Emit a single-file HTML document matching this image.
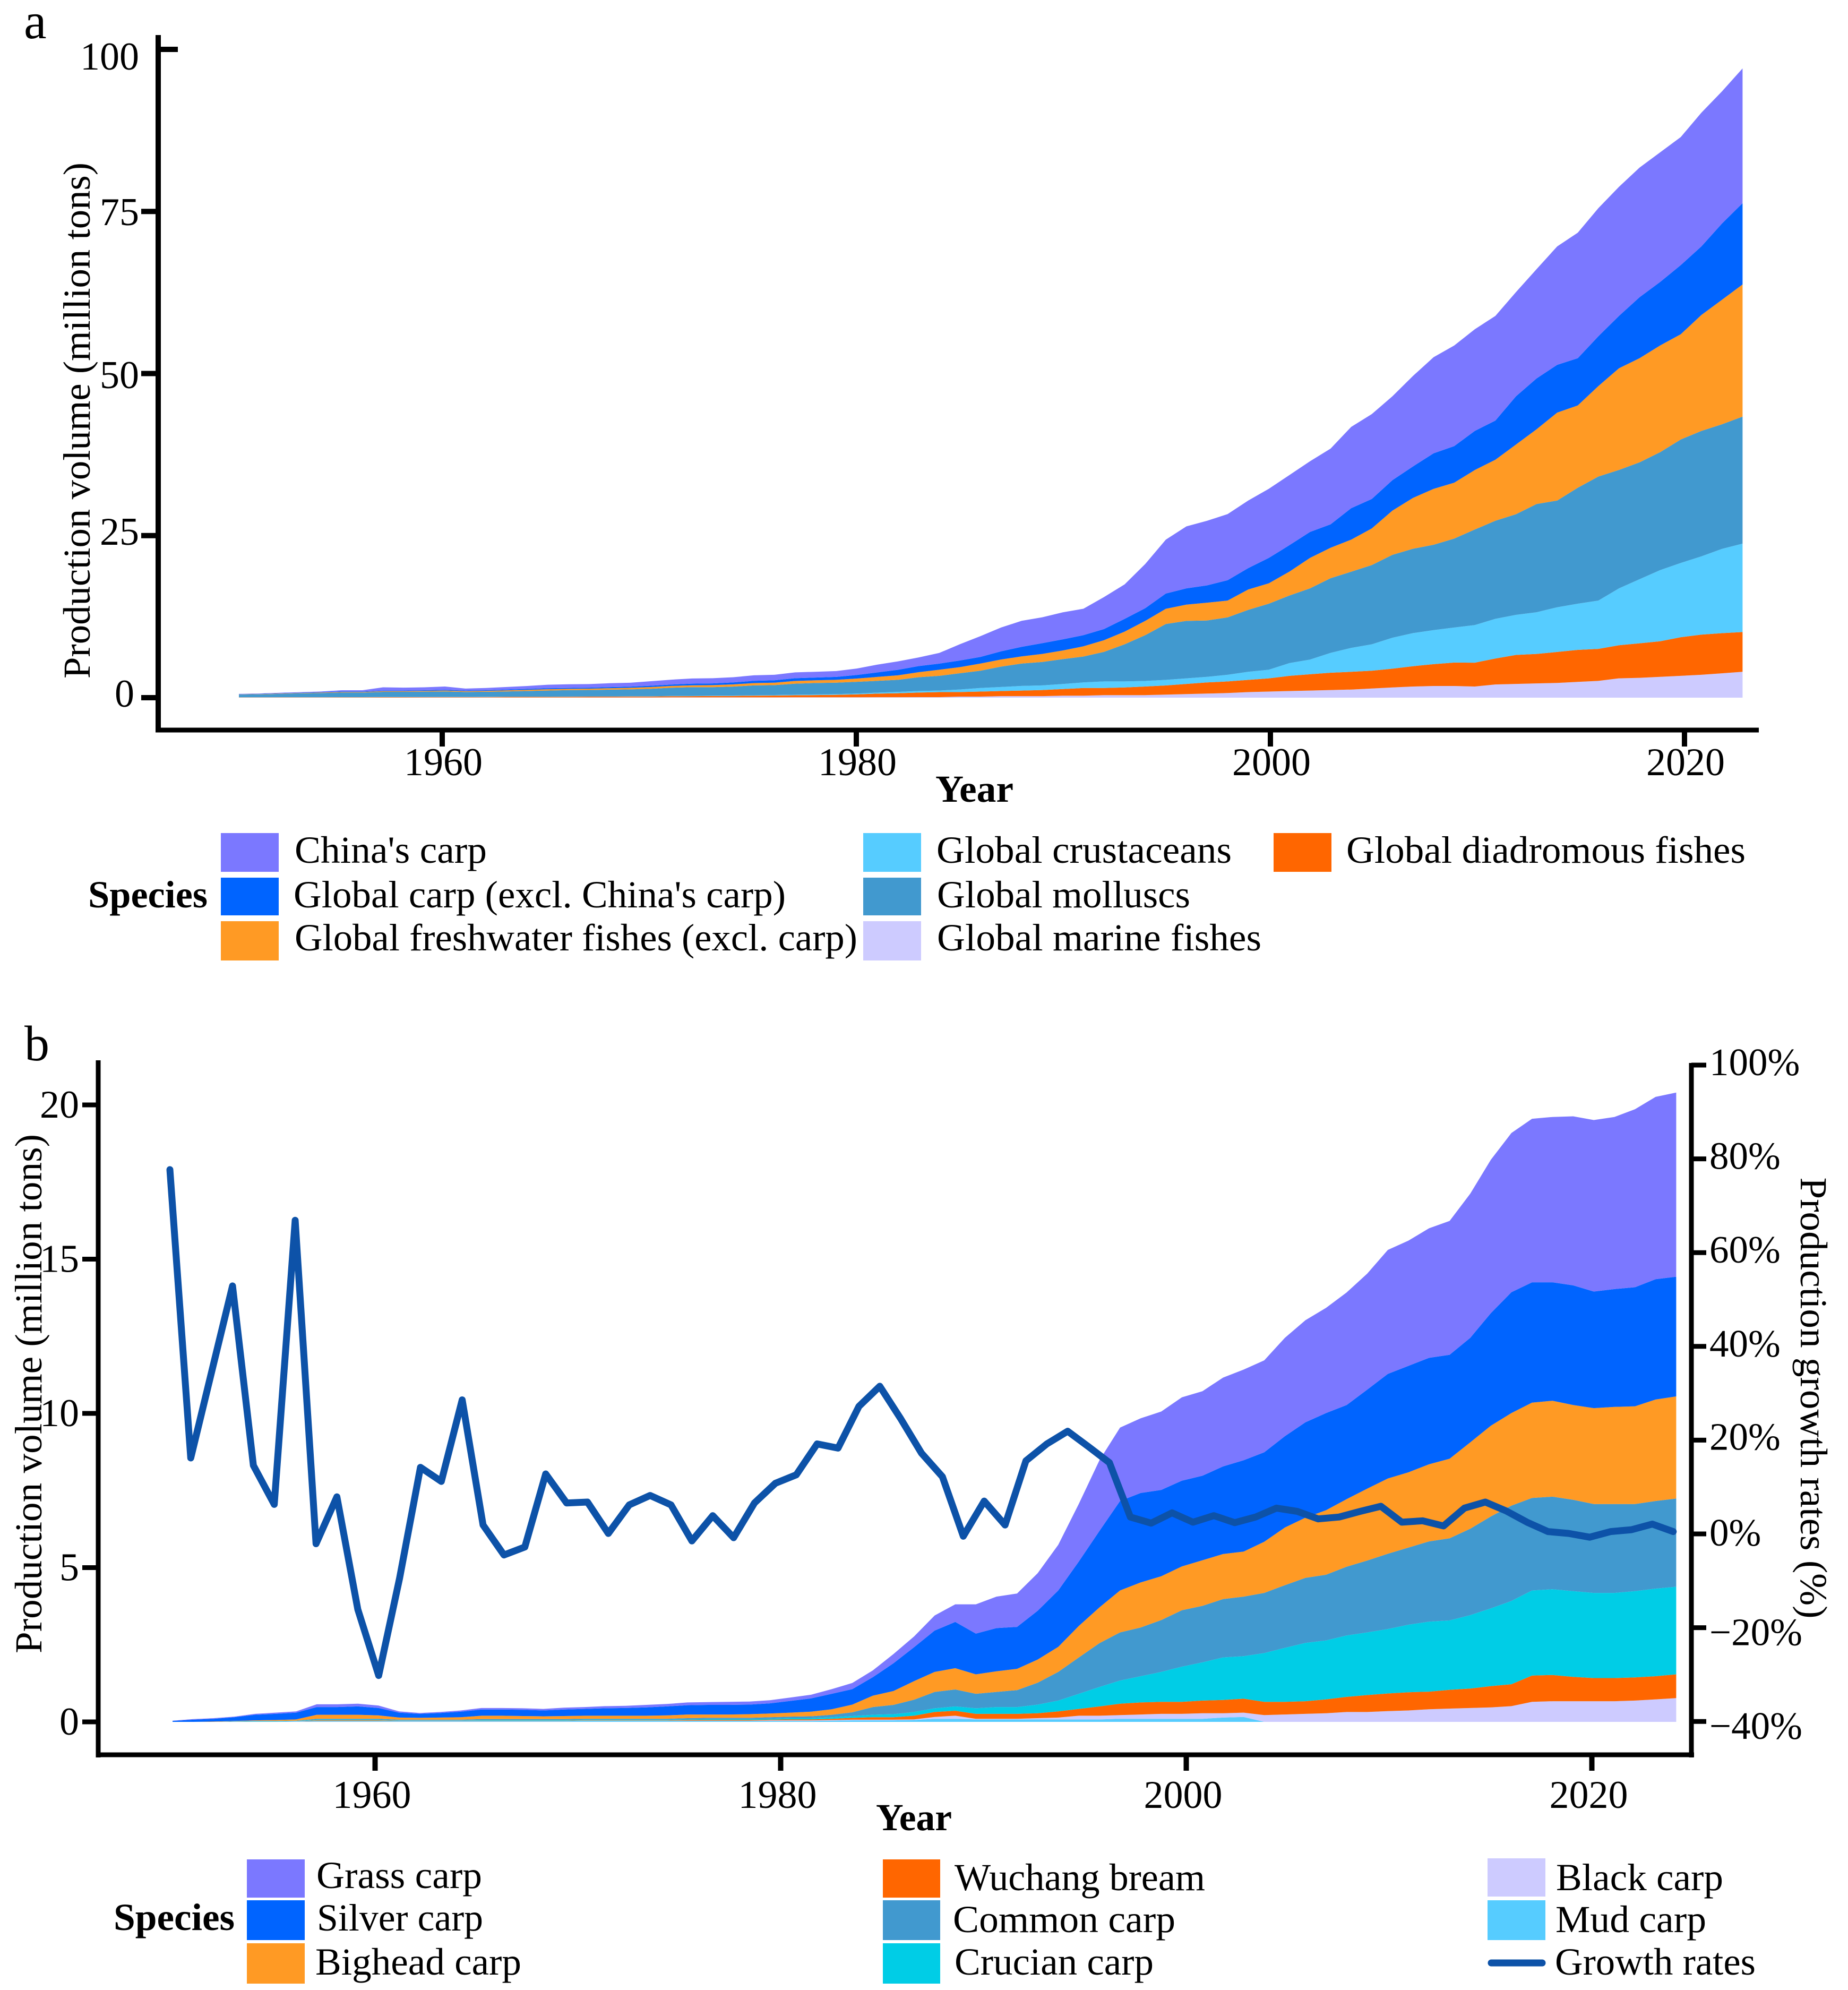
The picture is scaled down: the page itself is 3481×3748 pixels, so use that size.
<!DOCTYPE html>
<html lang="en">
<head>
<meta charset="utf-8">
<title>Aquaculture production by species</title>
<style>
html,body{margin:0;padding:0;background:#fff;}
svg{display:block;}
text{font-family:"Liberation Serif",serif;font-size:72px;fill:#000;}
.bold{font-weight:bold;}
</style>
</head>
<body>
<svg id="chart" xmlns="http://www.w3.org/2000/svg" width="3481" height="3748" viewBox="0 0 3481 3748">
  <rect x="0" y="0" width="3481" height="3748" fill="#fff"/>
  <g id="panelA">
    <text x="45" y="72" style="font-size:96px">a</text>
    <text transform="translate(169,792) rotate(-90)" text-anchor="middle" textLength="972" lengthAdjust="spacingAndGlyphs">Production volume (million tons)</text>
    <text x="1762" y="1510" class="bold" textLength="147" lengthAdjust="spacingAndGlyphs">Year</text>
  </g>
  <g id="legendA">
    <text x="166" y="1709" class="bold" textLength="225" lengthAdjust="spacingAndGlyphs">Species</text>
    <rect x="416" y="1569" width="109" height="73" fill="#7b78ff"/>
    <text x="555" y="1625" textLength="362" lengthAdjust="spacingAndGlyphs">China's carp</text>
    <rect x="416" y="1653" width="109" height="71" fill="#0064ff"/>
    <text x="553" y="1709" textLength="927" lengthAdjust="spacingAndGlyphs">Global carp (excl. China's carp)</text>
    <rect x="416" y="1735" width="109" height="74" fill="#ff9a24"/>
    <text x="555" y="1790" textLength="1060" lengthAdjust="spacingAndGlyphs">Global freshwater fishes (excl. carp)</text>
    <rect x="1626" y="1569" width="109" height="73" fill="#56ccff"/>
    <text x="1764" y="1625" textLength="556" lengthAdjust="spacingAndGlyphs">Global crustaceans</text>
    <rect x="1626" y="1653" width="109" height="71" fill="#4199cf"/>
    <text x="1765" y="1709" textLength="477" lengthAdjust="spacingAndGlyphs">Global molluscs</text>
    <rect x="1626" y="1735" width="109" height="74" fill="#cdcbff"/>
    <text x="1765" y="1790" textLength="611" lengthAdjust="spacingAndGlyphs">Global marine fishes</text>
    <rect x="2399" y="1569" width="109" height="73" fill="#ff6600"/>
    <text x="2536" y="1625" textLength="752" lengthAdjust="spacingAndGlyphs">Global diadromous fishes</text>
  </g>
  <g id="panelB">
    <text x="46" y="1997" style="font-size:94px">b</text>
    <text transform="translate(78,2625) rotate(-90)" text-anchor="middle" textLength="978" lengthAdjust="spacingAndGlyphs">Production volume (million tons)</text>
    <text transform="translate(3392,2633) rotate(90)" text-anchor="middle" textLength="831" lengthAdjust="spacingAndGlyphs">Production growth rates (%)</text>
    <text x="1650" y="3447" class="bold" textLength="143" lengthAdjust="spacingAndGlyphs">Year</text>
  </g>
  <g id="legendB">
    <text x="214" y="3635" class="bold" textLength="228" lengthAdjust="spacingAndGlyphs">Species</text>
    <rect x="465" y="3502" width="109" height="72" fill="#7b78ff"/>
    <text x="596" y="3556" textLength="312" lengthAdjust="spacingAndGlyphs">Grass carp</text>
    <rect x="465" y="3579" width="109" height="75" fill="#0064ff"/>
    <text x="597" y="3636" textLength="313" lengthAdjust="spacingAndGlyphs">Silver carp</text>
    <rect x="465" y="3660" width="109" height="76" fill="#ff9a24"/>
    <text x="594" y="3719" textLength="388" lengthAdjust="spacingAndGlyphs">Bighead carp</text>
    <rect x="1663" y="3502" width="108" height="72" fill="#ff6600"/>
    <text x="1798" y="3560" textLength="472" lengthAdjust="spacingAndGlyphs">Wuchang bream</text>
    <rect x="1663" y="3579" width="108" height="75" fill="#4199cf"/>
    <text x="1795" y="3639" textLength="419" lengthAdjust="spacingAndGlyphs">Common carp</text>
    <rect x="1663" y="3660" width="108" height="76" fill="#00cde6"/>
    <text x="1798" y="3719" textLength="375" lengthAdjust="spacingAndGlyphs">Crucian carp</text>
    <rect x="2802" y="3500" width="109" height="72" fill="#cdcbff"/>
    <text x="2931" y="3560" textLength="315" lengthAdjust="spacingAndGlyphs">Black carp</text>
    <rect x="2802" y="3579" width="109" height="75" fill="#56ccff"/>
    <text x="2930" y="3639" textLength="284" lengthAdjust="spacingAndGlyphs">Mud carp</text>
    <line x1="2809" y1="3697" x2="2905" y2="3697" stroke="#0d52a8" stroke-width="13" stroke-linecap="round"/>
    <text x="2929" y="3719" textLength="378" lengthAdjust="spacingAndGlyphs">Growth rates</text>
  </g>
</svg>
<script>
/* ---------- Panel a data (million tons), 1950-2023 ---------- */
const yearsA = [1950,1951,1952,1953,1954,1955,1956,1957,1958,1959,1960,1961,1962,1963,1964,1965,1966,1967,1968,1969,1970,1971,1972,1973,1974,1975,1976,1977,1978,1979,1980,1981,1982,1983,1984,1985,1986,1987,1988,1989,1990,1991,1992,1993,1994,1995,1996,1997,1998,1999,2000,2001,2002,2003,2004,2005,2006,2007,2008,2009,2010,2011,2012,2013,2014,2015,2016,2017,2018,2019,2020,2021,2022,2023];
const marineFishes = [.02,.02,.02,.02,.02,.02,.02,.02,.02,.03,
 .03,.03,.03,.03,.03,.03,.03,.04,.04,.04,
 .04,.05,.05,.05,.05,.05,.05,.06,.06,.06,
 .06,.07,.07,.08,.08,.16,.16,.24,.24,.24,
 .31,.31,.39,.39,.39,.47,.55,.63,.71,.86,
 .94,1.02,1.10,1.18,1.25,1.41,1.57,1.72,1.80,1.80,
 1.72,2.04,2.12,2.20,2.27,2.43,2.59,2.98,3.06,3.21,
 3.37,3.53,3.76,4.0];
const diadromous = [.03,.03,.04,.04,.04,.05,.05,.06,.06,.06,
 .07,.07,.08,.09,.1,.1,.11,.12,.13,.14,
 .15,.17,.19,.2,.22,.25,.28,.31,.34,.38,
 .45,.55,.62,.71,.78,.71,.78,.78,.86,.94,
 1.02,1.18,1.10,1.18,1.33,1.41,1.57,1.72,1.80,1.88,
 2.04,2.35,2.51,2.67,2.74,2.74,2.90,3.14,3.37,3.61,
 3.68,4.0,4.47,4.55,4.78,4.94,4.94,5.10,5.33,5.49,
 5.96,6.19,6.19,6.12];
const crustaceans = [.01,.01,.01,.01,.01,.01,.01,.02,.02,.02,
 .02,.02,.02,.02,.02,.03,.03,.03,.03,.04,
 .04,.05,.05,.06,.06,.07,.08,.09,.1,.11,
 .13,.16,.2,.24,.24,.39,.55,.63,.71,.71,
 .78,.86,1.02,.94,.86,.86,.86,.86,1.02,1.25,
 1.33,1.96,2.27,3.06,3.68,4.08,4.78,5.10,5.25,5.41,
 5.80,6.12,6.19,6.43,6.90,7.13,7.45,8.78,9.88,10.98,
 11.45,12.07,13.01,13.64];
const molluscs = [.41,.45,.51,.59,.65,.71,.71,.8,.8,.82,
 .84,.76,.78,.83,.88,.94,.99,1.0,1.04,1.06,
 1.15,1.26,1.32,1.3,1.38,1.52,1.52,1.7,1.76,1.76,
 1.81,1.82,1.86,2.12,2.27,2.51,2.67,3.14,3.45,3.61,
 3.84,4.0,4.55,5.72,7.06,8.62,8.86,8.70,8.86,9.56,
 10.19,10.43,10.98,11.52,11.76,12.23,12.78,13.01,13.17,13.72,
 14.74,15.13,15.52,16.70,16.46,17.88,19.13,18.27,18.03,18.19,
 19.05,19.36,19.21,19.6];
const freshwater = [.03,.04,.05,.06,.07,.08,.08,.1,.1,.12,
 .14,.12,.14,.16,.18,.2,.2,.2,.22,.24,
 .26,.28,.3,.32,.34,.36,.38,.42,.42,.44,
 .5,.6,.7,.78,.94,.94,1.10,1.10,1.10,1.25,
 1.33,1.57,1.80,1.96,2.20,2.35,2.51,2.74,2.59,3.14,
 3.14,3.68,4.70,4.70,4.94,5.64,6.82,7.84,8.62,8.62,
 9.17,9.41,10.74,11.52,13.56,12.70,13.96,15.68,16.07,16.46,
 16.23,17.88,19.21,20.38];
const globalCarp = [.03,.04,.05,.05,.06,.08,.08,.1,.1,.1,
 .12,.1,.1,.12,.14,.15,.15,.16,.17,.18,
 .2,.22,.25,.27,.3,.35,.37,.42,.42,.45,
 .55,.7,.85,.94,.94,1.02,1.02,1.25,1.49,1.65,
 1.72,1.72,1.72,1.96,1.96,2.35,2.51,2.67,3.14,3.29,
 3.92,4.08,4.0,3.61,4.86,4.55,4.70,4.86,5.49,5.64,
 6.04,6.04,7.45,7.84,7.37,7.29,7.68,8.08,9.41,9.80,
 10.66,10.58,11.76,12.54];
const chinasCarp = [.05,.06,.07,.08,.1,.2,.2,.5,.45,.45,
 .5,.3,.35,.4,.45,.55,.55,.55,.6,.6,
 .7,.75,.8,.8,.8,.85,.85,.9,.9,.9,
 1.0,1.2,1.3,1.33,1.65,2.51,3.21,3.68,4.0,4.0,
 4.16,4.08,4.94,5.33,6.82,8.31,9.56,9.96,10.19,10.43,
 10.66,10.82,10.90,11.68,12.54,13.09,12.94,13.96,14.82,15.52,
 15.68,16.15,16.07,16.86,18.27,19.36,19.76,19.91,19.99,19.99,
 19.76,20.62,20.38,20.78];
const yTicksA = [0,25,50,75,100];
const xTicksA = [1960,1980,2000,2020];

/* ---------- Panel b data (million tons), 1950-2023 ---------- */
const yearsB = [1950,1951,1952,1953,1954,1955,1956,1957,1958,1959,1960,1961,1962,1963,1964,1965,1966,1967,1968,1969,1970,1971,1972,1973,1974,1975,1976,1977,1978,1979,1980,1981,1982,1983,1984,1985,1986,1987,1988,1989,1990,1991,1992,1993,1994,1995,1996,1997,1998,1999,2000,2001,2002,2003,2004,2005,2006,2007,2008,2009,2010,2011,2012,2013,2014,2015,2016,2017,2018,2019,2020,2021,2022,2023];
const mudCarp = [0,0,0,.01,.01,.01,.01,.02,.02,.02,
 .02,.02,.02,.02,.02,.02,.02,.02,.02,.02,
 .03,.03,.03,.03,.03,.03,.03,.03,.03,.03,
 .03,.03,.04,.05,.05,.05,.06,.10,.10,.08,
 .08,.08,.08,.08,.08,.08,.10,.10,.10,.10,
 .10,.14,.16,0,0,0,0,0,0,0,
 0,0,0,0,0,0,0,0,0,0,
 0,0,0,0];
const blackCarp = [0,0,0,0,0,0,.01,.01,.01,.01,
 .01,.01,.01,.01,.01,.01,.01,.01,.01,.01,
 .01,.01,.01,.01,.01,.01,.01,.01,.01,.02,
 .02,.02,.02,.02,.02,.02,.02,.06,.1,.02,
 .02,.02,.04,.06,.12,.12,.12,.14,.16,.16,
 .18,.14,.14,.22,.24,.26,.28,.32,.32,.35,
 .37,.41,.43,.45,.47,.51,.65,.67,.67,.67,
 .67,.69,.73,.77];
const wuchangBream = [0,0,0,0,0,0,0,.02,.02,.02,
 .02,.01,.01,.01,.01,.01,.01,.01,.01,.01,
 .01,.01,.01,.01,.01,.02,.02,.02,.02,.02,
 .03,.03,.04,.06,.08,.08,.12,.16,.16,.16,
 .16,.16,.16,.2,.22,.30,.37,.39,.39,.39,
 .41,.43,.45,.43,.41,.41,.45,.49,.55,.57,
 .59,.57,.61,.63,.69,.71,.85,.85,.79,.75,
 .75,.75,.75,.77];
const crucianCarp = [0,0,0,0,.01,.01,.01,.02,.02,.02,
 .02,.01,.01,.01,.01,.02,.02,.02,.02,.02,
 .02,.02,.02,.02,.02,.02,.03,.03,.03,.03,
 .04,.04,.05,.06,.08,.1,.12,.12,.14,.18,
 .22,.22,.28,.35,.49,.63,.75,.85,.97,1.14,
 1.24,1.38,1.38,1.58,1.75,1.89,1.91,1.99,2.03,2.09,
 2.19,2.27,2.25,2.38,2.52,2.70,2.76,2.78,2.78,2.76,
 2.76,2.80,2.84,2.84];
const commonCarp = [0,0,0,.01,.01,.01,.01,.03,.03,.03,
 .03,.02,.02,.02,.02,.03,.03,.03,.03,.03,
 .03,.03,.03,.03,.03,.04,.04,.04,.04,.05,
 .05,.06,.08,.12,.25,.3,.4,.53,.55,.47,
 .49,.55,.71,.93,1.18,1.42,1.56,1.58,1.68,1.83,
 1.83,1.89,1.93,1.95,2.03,2.11,2.13,2.23,2.33,2.44,
 2.50,2.60,2.66,2.80,2.98,3.09,3.00,3.00,2.96,2.88,
 2.88,2.82,2.84,2.86];
const bigheadCarp = [0,0,.01,.01,.02,.03,.04,.13,.13,.13,
 .11,.07,.06,.07,.08,.11,.11,.1,.09,.1,
 .1,.1,.1,.1,.11,.12,.11,.11,.12,.12,
 .13,.15,.18,.25,.37,.45,.6,.65,.69,.63,
 .67,.69,.75,.81,1.02,1.16,1.36,1.46,1.42,1.42,
 1.48,1.46,1.46,1.66,1.87,1.95,2.09,2.19,2.33,2.44,
 2.44,2.50,2.58,2.80,2.94,3.00,3.09,3.11,3.07,3.11,
 3.15,3.17,3.29,3.31];
const silverCarp = [.03,.07,.09,.12,.18,.2,.22,.25,.25,.27,
 .24,.16,.13,.15,.18,.2,.2,.2,.19,.21,
 .22,.24,.25,.27,.29,.3,.31,.31,.31,.33,
 .38,.43,.5,.5,.6,.9,1.1,1.34,1.50,1.32,
 1.40,1.36,1.58,1.83,2.09,2.48,2.90,2.90,2.80,2.78,
 2.74,2.84,2.96,2.90,2.96,3.09,3.15,3.05,3.21,3.39,
 3.45,3.45,3.37,3.39,3.65,3.92,3.90,3.84,3.88,3.78,
 3.82,3.86,3.90,3.88];
const grassCarp = [.01,.02,.02,.02,.03,.04,.04,.09,.09,.09,
 .08,.04,.03,.03,.04,.05,.05,.05,.05,.06,
 .06,.07,.07,.08,.08,.09,.09,.1,.1,.1,
 .11,.12,.15,.2,.22,.3,.35,.49,.57,.95,
 1.02,1.08,1.22,1.48,1.87,2.29,2.38,2.42,2.54,2.70,
 2.74,2.88,2.94,2.98,3.19,3.31,3.41,3.65,3.76,4.02,
 4.06,4.20,4.34,4.67,4.97,5.16,5.30,5.36,5.48,5.56,
 5.58,5.77,5.91,5.97];
const growthYears = [1951,1952,1953,1954,1955,1956,1957,1958,1959,1960,1961,1962,1963,1964,1965,1966,1967,1968,1969,1970,1971,1972,1973,1974,1975,1976,1977,1978,1979,1980,1981,1982,1983,1984,1985,1986,1987,1988,1989,1990,1991,1992,1993,1994,1995,1996,1997,1998,1999,2000,2001,2002,2003,2004,2005,2006,2007,2008,2009,2010,2011,2012,2013,2014,2015,2016,2017,2018,2019,2020,2021,2022,2023];
const growthRates = [77.7,16.2,34.6,52.9,14.6,6.3,66.9,-2.1,7.9,-16.1,
 -30.2,-9.5,14.2,11.2,28.6,1.9,-4.5,-2.8,12.8,6.6,
 6.8,0.1,6.2,8.2,6.2,-1.5,3.9,-0.8,6.6,10.8,
 12.6,19.2,18.3,27.2,31.5,24.6,17.2,12.2,-0.5,7.0,
 1.9,15.6,19.2,21.9,18.6,15.2,3.6,2.3,4.5,2.5,
 3.9,2.4,3.6,5.5,4.8,3.2,3.6,4.8,5.9,2.5,
 2.8,1.7,5.5,6.8,4.9,2.5,0.5,0.1,-0.7,0.5,
 0.9,2.1,0.5];
const yTicksB = [0,5,10,15,20];
const xTicksB = [1960,1980,2000,2020];
const rightTicksB = [-40,-20,0,20,40,60,80,100];

/* ---------- Axis functions ---------- */
const xA = y => 450 + 38.8 * (y - 1950);
const xTickA = y => 833 + 39 * (y - 1960);
const yA = v => 1314 - 12.21 * v;
const yLabelA = v => 1331 - 12.0 * v - (v === 75 ? 7 : v === 25 ? 5 : 0);

const xB = y => 325 + 38.8 * (y - 1950);
const xTickB = y => 706.5 + 38.2 * (y - 1960);
const yB = v => 3243 - 58.1 * v;
const xGrowth = y => 320 + 39.33 * (y - 1951);
const yRight = v => 2889 - 8.83 * v;
const yRightLabel = v => yRight(v) + (v < 0 ? 33 : v === 0 ? 22 : v === 20 ? 18 : 19);

const NS = 'http://www.w3.org/2000/svg';
const panelA = document.getElementById('panelA');
const panelB = document.getElementById('panelB');

function stackedPath(years, lower, upper, xf, yf) {
  let d = '';
  for (let i = 0; i < years.length; i++) d += (i ? 'L' : 'M') + xf(years[i]).toFixed(1) + ' ' + yf(lower[i] + upper[i]).toFixed(1);
  for (let i = years.length - 1; i >= 0; i--) d += 'L' + xf(years[i]).toFixed(1) + ' ' + yf(lower[i]).toFixed(1);
  return d + 'Z';
}
function drawStack(parent, years, list, xf, yf) {
  let base = years.map(() => 0);
  for (const s of list) {
    const p = document.createElementNS(NS, 'path');
    
    
    p.setAttribute('d', stackedPath(years, base, s.values, xf, yf));
    p.setAttribute('fill', s.color);
    parent.appendChild(p);
    base = base.map((b, i) => b + s.values[i]);
  }
}
function axisLine(parent, name, x1, y1, x2, y2, w) {
  const l = document.createElementNS(NS, 'line');
  
  
  l.setAttribute('x1', x1); l.setAttribute('y1', y1);
  l.setAttribute('x2', x2); l.setAttribute('y2', y2);
  l.setAttribute('stroke', '#000');
  l.setAttribute('stroke-width', w);
  parent.appendChild(l);
}
function label(parent, name, x, y, str, anchor, size) {
  const t = document.createElementNS(NS, 'text');
  
  
  t.setAttribute('x', x); t.setAttribute('y', y);
  t.setAttribute('text-anchor', anchor);
  t.style.fontSize = size + 'px';
  t.textContent = str;
  parent.appendChild(t);
}

/* ---------- Panel a ---------- */
drawStack(panelA, yearsA, [
  {name: 'global-marine-fishes', values: marineFishes, color: '#cdcbff'},
  {name: 'global-diadromous-fishes', values: diadromous, color: '#ff6600'},
  {name: 'global-crustaceans', values: crustaceans, color: '#56ccff'},
  {name: 'global-molluscs', values: molluscs, color: '#4199cf'},
  {name: 'global-freshwater-fishes', values: freshwater, color: '#ff9a24'},
  {name: 'global-carp', values: globalCarp, color: '#0064ff'},
  {name: 'chinas-carp', values: chinasCarp, color: '#7b78ff'}
], xA, yA);
axisLine(panelA, 'panel-a-y-axis-line', 298, 66, 298, 1379, 10);
axisLine(panelA, 'panel-a-x-axis-line', 293, 1375, 3313, 1375, 9);
for (const v of yTicksA) {
  if (v === 100) axisLine(panelA, 'panel-a-y-tick-100', 298, yA(v), 335, yA(v), 10);
  else axisLine(panelA, 'panel-a-y-tick-' + v, 266, yA(v), 298, yA(v), 10);
  label(panelA, 'panel-a-y-tick-label-' + v, v === 0 ? 253 : 262, yLabelA(v), String(v), 'end', 74);
}
for (const y of xTicksA) {
  axisLine(panelA, 'panel-a-x-tick-' + y, xTickA(y), 1375, xTickA(y), 1406, 10);
  label(panelA, 'panel-a-x-tick-label-' + y, xTickA(y) + 2, 1460, String(y), 'middle', 74);
}

/* ---------- Panel b ---------- */
drawStack(panelB, yearsB, [
  {name: 'mud-carp', values: mudCarp, color: '#56ccff'},
  {name: 'black-carp', values: blackCarp, color: '#cdcbff'},
  {name: 'wuchang-bream', values: wuchangBream, color: '#ff6600'},
  {name: 'crucian-carp', values: crucianCarp, color: '#00cde6'},
  {name: 'common-carp', values: commonCarp, color: '#4199cf'},
  {name: 'bighead-carp', values: bigheadCarp, color: '#ff9a24'},
  {name: 'silver-carp', values: silverCarp, color: '#0064ff'},
  {name: 'grass-carp', values: grassCarp, color: '#7b78ff'}
], xB, yB);

const growthLine = document.createElementNS(NS, 'polyline');


growthLine.setAttribute('points', growthYears.map((y, i) => xGrowth(y).toFixed(1) + ',' + yRight(growthRates[i]).toFixed(1)).join(' '));
growthLine.setAttribute('fill', 'none');
growthLine.setAttribute('stroke', '#0d52a8');
growthLine.setAttribute('stroke-width', '13');
growthLine.setAttribute('stroke-linejoin', 'round');
growthLine.setAttribute('stroke-linecap', 'round');
panelB.appendChild(growthLine);

axisLine(panelB, 'panel-b-y-axis-line', 185, 1997, 185, 3310, 9);
axisLine(panelB, 'panel-b-x-axis-line', 181, 3305, 3191, 3305, 9);
axisLine(panelB, 'panel-b-right-axis-line', 3186, 2002, 3186, 3310, 9);
for (const v of yTicksB) {
  axisLine(panelB, 'panel-b-y-tick-' + v, 155, yB(v), 185, yB(v), 9);
  label(panelB, 'panel-b-y-tick-label-' + v, 149, yB(v) + 24, String(v), 'end', 74);
}
for (const y of xTicksB) {
  axisLine(panelB, 'panel-b-x-tick-' + y, xTickB(y), 3305, xTickB(y), 3335, 10);
  label(panelB, 'panel-b-x-tick-label-' + y, xTickB(y) - 6, 3405, String(y), 'middle', 74);
}
for (const v of rightTicksB) {
  axisLine(panelB, 'panel-b-right-tick-' + v, 3186, yRight(v), 3214, yRight(v), 9);
  label(panelB, 'panel-b-right-tick-label-' + v, 3220, yRightLabel(v), (v < 0 ? '\u2212' : '') + Math.abs(v) + '%', 'start', 73);
}
</script>
</body>
</html>
